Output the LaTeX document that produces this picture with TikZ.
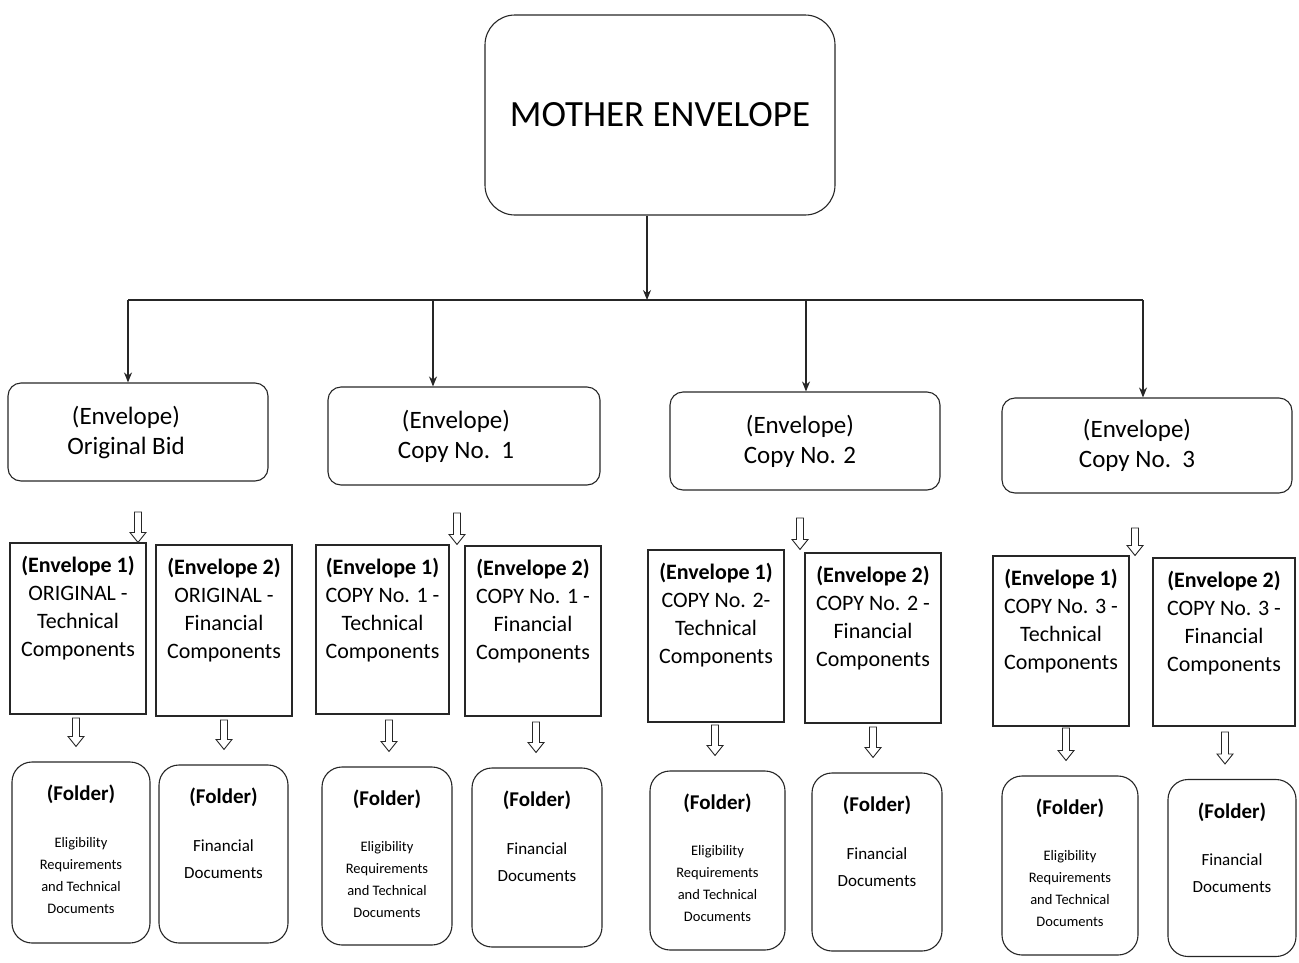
\documentclass[tikz,border=0pt]{standalone}
\usepackage{fontspec}
\setmainfont{Carlito}
\usetikzlibrary{calc,arrows.meta}
\newcommand{\harrow}[2]{\draw[hollow] let \p1=#1, \p2=#2 in
  (\x1-3.5pt,\y1) -- (\x1-3.5pt,\y2+10pt) -- (\x1-8pt,\y2+10pt) -- (\x1,\y2)
  -- (\x1+8pt,\y2+10pt) -- (\x1+3.5pt,\y2+10pt) -- (\x1+3.5pt,\y1) -- cycle;}
\begin{document}
\begin{tikzpicture}[x=1pt,y=-1pt,
  line/.style={draw=black!85, line width=1.1pt},
  mbox/.style={line, rounded corners=30pt, minimum width=350pt, minimum height=200pt, inner sep=0pt, font=\fontsize{37}{40}\selectfont},
  ebox/.style={line, rounded corners=13pt, inner sep=0pt},
  etxt/.style={align=center, inner sep=0pt, font=\fontsize{25}{30}\selectfont},
  rbox/.style={line, inner sep=0pt},
  fbox/.style={line, rounded corners=20pt, inner sep=0pt},
  rtxt/.style={align=center, anchor=north, inner sep=0pt, font=\fontsize{22}{28}\selectfont},
  ftitle/.style={inner sep=0pt, font=\bfseries\fontsize{21}{24}\selectfont},
  fsmall/.style={align=center, inner sep=0pt, font=\fontsize{14.5}{22}\selectfont},
  fmed/.style={align=center, inner sep=0pt, font=\fontsize{17}{27}\selectfont},
  hollow/.style={draw=black!85, line width=0.9pt, fill=white, line join=miter},
  conn/.style={line, -{Stealth[length=10pt,width=8pt]}}
]
\useasboundingbox (0,0) rectangle (1299,962);

% mother
\node[mbox] (m) at (660,115) {MOTHER ENVELOPE};

% top envelopes
\node[ebox, minimum width=260pt, minimum height=98pt] (e0) at (138,432) {};
\node[ebox, minimum width=272pt, minimum height=98pt] (e1) at (464,436) {};
\node[ebox, minimum width=270pt, minimum height=98pt] (e2) at (805,441) {};
\node[ebox, minimum width=290pt, minimum height=95pt] (e3) at (1147,445.5) {};
\node[etxt] (e0t) at ($(e0.center)+(-12,0)$) {(Envelope)\\Original Bid};
\node[etxt] (e1t) at ($(e1.center)+(-8,0)$) {(Envelope)\\Copy No.\ \ 1};
\node[etxt] (e2t) at ($(e2.center)+(-5,0)$) {(Envelope)\\Copy No. 2};
\node[etxt] (e3t) at ($(e3.center)+(-10,0)$) {(Envelope)\\Copy No.\ \ 3};

% bus
\coordinate (bus) at (647,300);
\coordinate (t0) at ($(e0.north)+(-10,0)$);
\coordinate (t1) at ($(e1.north)+(-31,0)$);
\coordinate (t2) at ($(e2.north)+(1,0)$);
\coordinate (t3) at ($(e3.north)+(-4,0)$);
\draw[conn] (m.south -| bus) -- (bus);
\draw[line] (t0 |- bus) -- (t3 |- bus);
\foreach \i in {0,...,3} \draw[conn] (t\i |- bus) -- (t\i);

% second row
\node[rbox, minimum width=136pt, minimum height=171pt] (o1) at (78,628.5) {};
\node[rbox, minimum width=136pt, minimum height=171pt] (o2) at (224,630.5) {};
\node[rbox, minimum width=133pt, minimum height=169pt] (c11) at (382.5,629.5) {};
\node[rbox, minimum width=136pt, minimum height=170pt] (c12) at (533,631) {};
\node[rbox, minimum width=136pt, minimum height=172pt] (c21) at (716,636) {};
\node[rbox, minimum width=136pt, minimum height=170pt] (c22) at (873,638) {};
\node[rbox, minimum width=136pt, minimum height=170pt] (c31) at (1061,641) {};
\node[rbox, minimum width=142pt, minimum height=168pt] (c32) at (1224,642) {};

\node[rtxt] (o1t) at ([yshift=-14pt]o1.north) {\textbf{(Envelope 1)}\\ORIGINAL -\\Technical\\Components};
\node[rtxt] (o2t) at ([yshift=-14pt]o2.north) {\textbf{(Envelope 2)}\\ORIGINAL -\\Financial\\Components};
\node[rtxt] (c11t) at ([yshift=-14pt]c11.north) {\textbf{(Envelope 1)}\\COPY No. 1 -\\Technical\\Components};
\node[rtxt] (c12t) at ([yshift=-14pt]c12.north) {\textbf{(Envelope 2)}\\COPY No. 1 -\\Financial\\Components};
\node[rtxt] (c21t) at ([yshift=-14pt]c21.north) {\textbf{(Envelope 1)}\\COPY No. 2-\\Technical\\Components};
\node[rtxt] (c22t) at ([yshift=-14pt]c22.north) {\textbf{(Envelope 2)}\\COPY No. 2 -\\Financial\\Components};
\node[rtxt] (c31t) at ([yshift=-14pt]c31.north) {\textbf{(Envelope 1)}\\COPY No. 3 -\\Technical\\Components};
\node[rtxt] (c32t) at ([yshift=-14pt]c32.north) {\textbf{(Envelope 2)}\\COPY No. 3 -\\Financial\\Components};

% folders
\node[fbox, minimum width=138pt, minimum height=181pt] (f1) at (81,852.5) {};
\node[fbox, minimum width=129pt, minimum height=178pt] (f2) at (223.5,854) {};
\node[fbox, minimum width=130pt, minimum height=178pt] (f3) at (387,856) {};
\node[fbox, minimum width=130pt, minimum height=179pt] (f4) at (537,857.5) {};
\node[fbox, minimum width=135pt, minimum height=179pt] (f5) at (717.5,860.5) {};
\node[fbox, minimum width=130pt, minimum height=178pt] (f6) at (877,862) {};
\node[fbox, minimum width=136pt, minimum height=179pt] (f7) at (1070,865.5) {};
\node[fbox, minimum width=128pt, minimum height=177pt] (f8) at (1232,868) {};

\foreach \f in {f1,f2,f3,f4,f5,f6,f7,f8}
  \node[ftitle] (\f h) at ($(\f.north)+(0,33)$) {(Folder)};
\foreach \f in {f1,f3,f5,f7}
  \node[fsmall] (\f b) at ($(\f.center)+(0,23.5)$) {Eligibility\\Requirements\\and Technical\\Documents};
\foreach \f in {f2,f4,f6,f8}
  \node[fmed] (\f b) at ($(\f.center)+(0,5)$) {Financial\\Documents};

% hollow arrows
\harrow{(138,512)}{(o1.north)}
\harrow{(457,513)}{(c11.north)}
\harrow{(800,518)}{(c21.north)}
\harrow{(1135,528)}{(c31.north)}
\harrow{(76,718)}{($(f1.north)+(0,-15)$)}
\harrow{(224,720)}{($(f2.north)+(0,-15)$)}
\harrow{(389,720)}{($(f3.north)+(0,-15)$)}
\harrow{(536,722)}{($(f4.north)+(0,-15)$)}
\harrow{(715,725)}{($(f5.north)+(0,-15)$)}
\harrow{(873,727)}{($(f6.north)+(0,-15)$)}
\harrow{(1066,728)}{($(f7.north)+(0,-15)$)}
\harrow{(1225,732)}{($(f8.north)+(0,-15)$)}
\end{tikzpicture}
\end{document}
